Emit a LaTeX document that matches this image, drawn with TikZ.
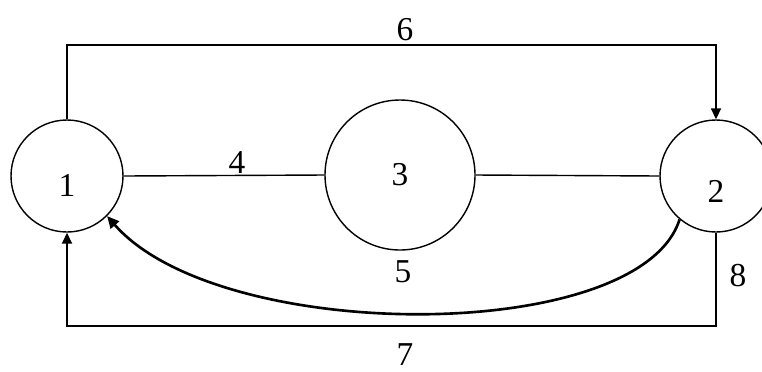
\documentclass[tikz,border=0pt]{standalone}
\usepackage{fontspec}
\setmainfont{Liberation Serif}
\usetikzlibrary{arrows.meta,calc}
\newcommand{\digits}{\fontsize{19}{22}\selectfont}
\tikzset{
 every node/.append style={font=\digits},
 station/.style={draw,circle,inner sep=0pt,line width=.8pt},
 small/.style={station,minimum size=22.4mm},
 big/.style={station,minimum size=30mm},
 pipe/.style={draw,line width=.8pt},
 flow/.style={-{Triangle[length=2.2mm,width=2mm]},draw,line width=1pt},
 back/.style={-{Triangle[length=2.4mm,width=2.2mm]},draw,line width=1.5pt},
 tag/.style={inner sep=1pt},
}

\begin{document}
\begin{tikzpicture}[x=0.2mm,y=-0.2mm]

\useasboundingbox (0,0) rectangle (762,371);
\node[small,label={[yshift=-1.8mm]center:1}] (n1) at (67,176) {};
\node[big] (n3) at (400,175) {3};
\node[small,label={[yshift=-3mm]center:2}] (n2) at (716,176) {};
\coordinate (top) at (400,45);
\coordinate (bot) at (400,326);
% pipes between stations
\draw[pipe] (n1.east) -- (n3.west);
\draw[pipe] (n3.east) -- (n2.west);
\draw[flow] (n1.north) |- (top) -| (n2.north);
\draw[flow] (n2.south) |- (bot) -| (n1.south);
\draw[back] (n2.230) .. controls (640,345) and (220,345) .. (n1.315);
% labels
\node[tag] (l4) at (237,163) {4};
\node[tag] (l5) at (403,272) {5};
\node[tag] (l6) at (405,30) {6};
\node[tag] (l7) at (405,355) {7};
\node[tag] (l8) at (738,276) {8};
\end{tikzpicture}
\end{document}
